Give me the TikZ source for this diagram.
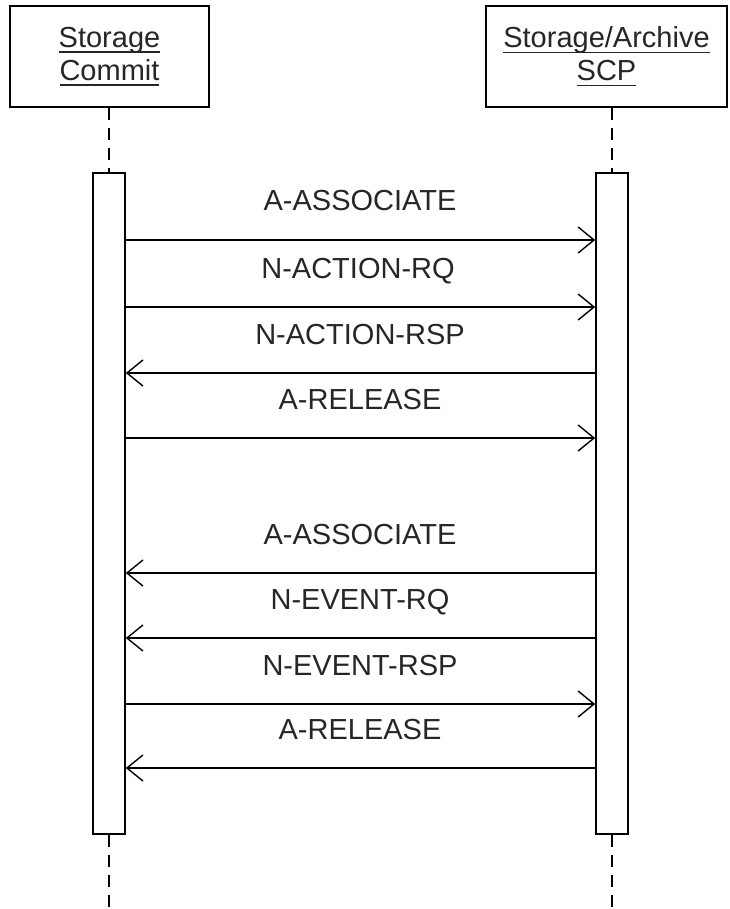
\documentclass[tikz,border=0pt]{standalone}
\usepackage{fontspec}
\setmainfont{Liberation Sans}
\newcommand\myul[1]{\setbox0\hbox{#1}\rlap{\rule[-5.5pt]{\wd0}{1.6pt}}\box0}
\usetikzlibrary{arrows.meta}
\tikzset{
  hdr/.style={draw, line width=1.6pt, rectangle, inner sep=0pt, text=black!85,
    font=\fontsize{29}{33}\selectfont, align=center},
  act/.style={draw, line width=1.6pt, rectangle, inner sep=0pt, minimum width=32pt, minimum height=661pt},
  life/.style={line width=1.6pt, dash pattern=on 12pt off 8pt},
  msg/.style={line width=1.4pt, -{Straight Barb[length=16pt,width=26pt,line width=1.4pt]}},
  lbl/.style={anchor=base, text=black!85, font=\fontsize{29}{33}\selectfont, inner sep=0pt}
}
\begin{document}
\begin{tikzpicture}[x=1pt,y=-1pt]
\useasboundingbox (0,0) rectangle (729,909);
\node[hdr, minimum width=199pt, minimum height=101pt] (lbox) at (109.5,56.5) {\myul{Storage}\\\myul{Commit}};
\node[hdr, minimum width=241pt, minimum height=101pt] (rbox) at (606.5,56.5) {\myul{Storage/Archive}\\\myul{SCP}};
\node[act] (la) at (109,503.5) {};
\node[act] (ra) at (612,503.5) {};
\coordinate (lend) at (109,909);
\coordinate (rend) at (612,909);
\draw[life] (la.north |- lbox.south) -- (la.north);
\draw[life] (ra.north |- rbox.south) -- (ra.north);
\draw[life] (la.south) -- (lend);
\draw[life] (ra.south) -- (rend);
% messages
\draw[msg] (la.east |- 0,240) -- (ra.west |- 0,240);
\draw[msg] (la.east |- 0,307) -- (ra.west |- 0,307);
\draw[msg] (ra.west |- 0,373) -- (la.east |- 0,373);
\draw[msg] (la.east |- 0,438) -- (ra.west |- 0,438);
\draw[msg] (ra.west |- 0,573) -- (la.east |- 0,573);
\draw[msg] (ra.west |- 0,638) -- (la.east |- 0,638);
\draw[msg] (la.east |- 0,704) -- (ra.west |- 0,704);
\draw[msg] (ra.west |- 0,768) -- (la.east |- 0,768);
\node[lbl] (m1) at (360,211) {A-ASSOCIATE};
\node[lbl] (m2) at (358,278) {N-ACTION-RQ};
\node[lbl] (m3) at (360,344) {N-ACTION-RSP};
\node[lbl] (m4) at (360,409) {A-RELEASE};
\node[lbl] (m5) at (360,544) {A-ASSOCIATE};
\node[lbl] (m6) at (360,609) {N-EVENT-RQ};
\node[lbl] (m7) at (360,675) {N-EVENT-RSP};
\node[lbl] (m8) at (360,739) {A-RELEASE};
\end{tikzpicture}
\end{document}
